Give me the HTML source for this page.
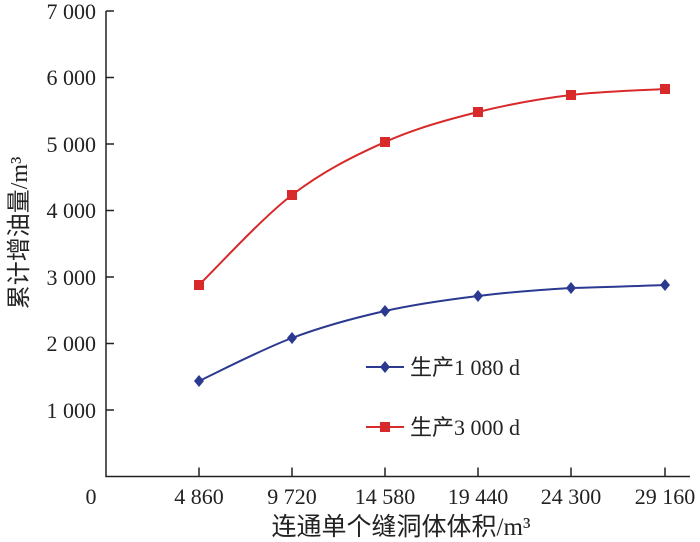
<!DOCTYPE html>
<html><head><meta charset="utf-8"><style>body{margin:0;background:#fff}svg{display:block}</style></head><body>
<svg width="700" height="542" xmlns="http://www.w3.org/2000/svg" font-family="Liberation Serif, Noto Serif CJK SC, serif">
<g stroke="#222" stroke-width="1.5" fill="none">
<path d="M106,11 V476.5 H690"/>
<path d="M106,11h8M106,77.5h8M106,144h8M106,210.5h8M106,277h8M106,343.5h8M106,410h8"/>
<path d="M199,476.5v-9M292,476.5v-9M385,476.5v-9M478,476.5v-9M571,476.5v-9M665,476.5v-9"/>
</g>
<g font-size="22" fill="#222" text-anchor="end">
<text x="96" y="19">7 000</text><text x="96" y="85">6 000</text><text x="96" y="152">5 000</text><text x="96" y="218">4 000</text><text x="96" y="285">3 000</text><text x="96" y="351">2 000</text><text x="96" y="418">1 000</text>
</g>
<g font-size="22" fill="#222" text-anchor="middle">
<text x="91" y="504">0</text><text x="199" y="504">4 860</text><text x="292" y="504">9 720</text><text x="385" y="504">14 580</text><text x="478" y="504">19 440</text><text x="571" y="504">24 300</text><text x="665" y="504">29 160</text>
<text x="401" y="535" font-size="25" font-family="Liberation Serif, Noto Sans CJK SC, sans-serif">连通单个缝洞体体积/m³</text>
<text transform="translate(27,233) rotate(-90)" font-size="24" font-family="Liberation Serif, Noto Sans CJK SC, sans-serif">累计增油量/m³</text>
</g>
<path d="M199,285 C214.5,270 261,218.8 292,195 C323,171.2 354,155.8 385,142 C416,128.2 447,119.8 478,112 C509,104.2 539.8,98.8 571,95 C602.2,91.2 649.3,90 665,89" stroke="#d82a2a" stroke-width="2" fill="none"/>
<path d="M199,381 C214.5,373.8 261,349.7 292,338 C323,326.3 354,318 385,311 C416,304 447,299.8 478,296 C509,292.2 540.2,289.8 571,288 C602.2,287.5 649.3,285.5 665,285" stroke="#2b3990" stroke-width="2" fill="none"/>
<g fill="#d82a2a">
<rect x="194" y="280" width="10" height="10"/><rect x="287" y="190" width="10" height="10"/><rect x="380" y="137" width="10" height="10"/><rect x="473" y="107" width="10" height="10"/><rect x="566" y="90" width="10" height="10"/><rect x="660" y="84" width="10" height="10"/>
<rect x="380" y="422" width="10" height="10"/>
</g>
<g fill="#2b3990">
<path d="M199,375l5,6l-5,6l-5,-6z"/><path d="M292,332l5,6l-5,6l-5,-6z"/><path d="M385,305l5,6l-5,6l-5,-6z"/><path d="M478,290l5,6l-5,6l-5,-6z"/><path d="M571,282l5,6l-5,6l-5,-6z"/><path d="M665,279l5,6l-5,6l-5,-6z"/>
<path d="M385,361l5,6l-5,6l-5,-6z"/>
</g>
<path d="M366,367h38" stroke="#2b3990" stroke-width="2"/>
<path d="M366,427h38" stroke="#d82a2a" stroke-width="2"/>
<g font-size="22" fill="#222" font-family="Liberation Serif, Noto Sans CJK SC, sans-serif">
<text x="410" y="375">生产1 080 d</text>
<text x="410" y="435">生产3 000 d</text>
</g>
</svg>
</body></html>
